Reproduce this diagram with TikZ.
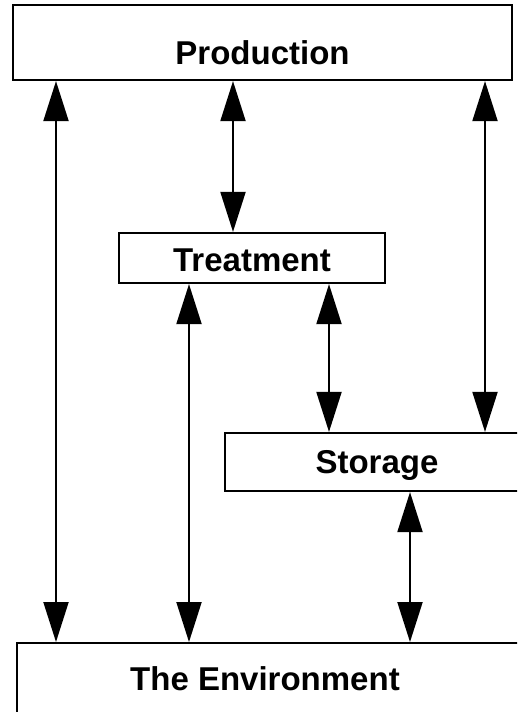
\documentclass[tikz,border=0pt]{standalone}
\usepackage{fontspec}
\setmainfont{Liberation Sans}
\usetikzlibrary{arrows.meta}
\tikzset{
  box/.style={draw, line width=2.2pt, inner sep=0pt},
  lbl/.style={font=\fontsize{33}{38}\selectfont\bfseries},
  link/.style={line width=2pt, {Triangle[length=40pt,width=25pt]}-{Triangle[length=40pt,width=25pt]}}
}
\begin{document}
\begin{tikzpicture}[x=1pt,y=-1pt]
  \useasboundingbox (0,0) rectangle (517,712);
  \clip (0,0) rectangle (517,712);
  % boxes
  \node[box, lbl, minimum width=499pt, minimum height=75pt, text height=44pt] (prod) at (262.5,42.5) {Production};
  \node[box, lbl, minimum width=266pt, minimum height=50pt, text height=28pt] (treat) at (252,258) {Treatment};
  \node[box, lbl, minimum width=304pt, minimum height=58pt, text height=30pt] (stor) at (377,462) {Storage};
  \node[box, minimum width=520pt, minimum height=100pt, anchor=north west] (env) at (16,642) {};
  \node[lbl] (envtext) at (265,679) {The Environment};
  % arrows
  \foreach \x/\a/\b in {56/prod/env, 233/prod/treat, 485/prod/stor,
                        189/treat/env, 329/treat/stor, 410/stor/env}
    {\draw[link] (\a.south -| \x,0) -- (\b.north -| \x,0);}
\end{tikzpicture}
\end{document}
